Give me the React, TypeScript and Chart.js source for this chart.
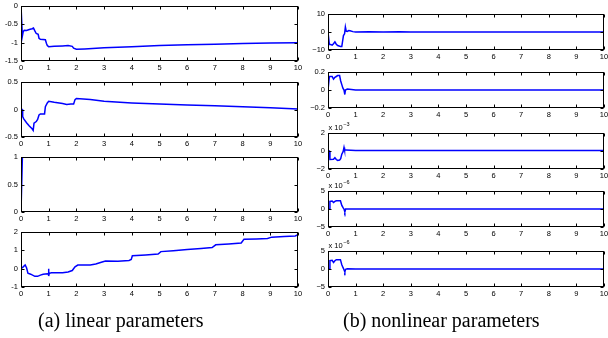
import React, { useEffect, useRef } from "react";
import { Chart, registerables } from "chart.js";
Chart.register(...registerables);
Chart.defaults.font.family = "'Liberation Sans', Arial, sans-serif";

// ---- data ----
const xTicks = [0, 1, 2, 3, 4, 5, 6, 7, 8, 9, 10];

const lin1T = [0, 0.03, 0.05, 0.08, 0.12, 0.2, 0.3, 0.4, 0.45, 0.5, 0.55, 0.62, 0.65, 0.7, 0.88, 0.92, 0.95, 1.0, 1.2, 1.5, 1.7, 1.85, 1.9, 2.0, 2.3, 3, 4, 5, 6, 7, 8, 9, 10];
const lin1V = [0, 0, -0.82, -0.7, -0.66, -0.67, -0.64, -0.62, -0.6, -0.68, -0.75, -0.77, -0.88, -0.91, -0.92, -1.02, -1.08, -1.11, -1.1, -1.09, -1.08, -1.1, -1.15, -1.18, -1.17, -1.14, -1.11, -1.08, -1.06, -1.04, -1.02, -1.01, -1.0];
const lin1Ticks = [-1.5, -1, -0.5, 0];

const lin2T = [0, 0.04, 0.06, 0.1, 0.2, 0.3, 0.4, 0.44, 0.47, 0.55, 0.6, 0.65, 0.7, 0.85, 0.88, 0.95, 1.0, 1.2, 1.5, 1.65, 1.8, 1.9, 1.95, 2.0, 2.5, 3, 4, 5, 6, 7, 8, 9, 10];
const lin2V = [0, 0, -0.13, -0.17, -0.24, -0.3, -0.35, -0.38, -0.25, -0.22, -0.18, -0.1, -0.08, -0.08, 0.05, 0.12, 0.15, 0.13, 0.11, 0.09, 0.1, 0.1, 0.18, 0.2, 0.18, 0.15, 0.12, 0.1, 0.08, 0.07, 0.05, 0.03, 0.01];
const lin2Ticks = [-0.5, 0, 0.5];

const lin3T = [0, 0.03, 0.05, 10];
const lin3V = [0, 0, 1, 1];
const lin3Ticks = [0, 0.5, 1];

const lin4T = [0, 0.08, 0.15, 0.2, 0.25, 0.35, 0.5, 0.6, 0.7, 0.8, 0.95, 0.99, 1.0, 1.0, 1.02, 1.1, 1.5, 1.7, 1.85, 1.95, 2.05, 2.5, 2.7, 2.9, 3.05, 3.5, 3.9, 3.98, 4.02, 4.5, 4.95, 5.05, 5.5, 6, 6.5, 6.9, 7.03, 7.5, 7.95, 8.05, 8.5, 8.9, 9.05, 9.5, 9.9, 10];
const lin4V = [0, 0.1, 0.2, 0.05, -0.25, -0.3, -0.42, -0.42, -0.35, -0.3, -0.28, -0.3, 0.0, -0.4, -0.25, -0.22, -0.22, -0.18, -0.1, 0.1, 0.2, 0.2, 0.25, 0.35, 0.42, 0.4, 0.45, 0.5, 0.7, 0.75, 0.8, 0.93, 0.98, 1.05, 1.1, 1.15, 1.3, 1.35, 1.4, 1.6, 1.62, 1.65, 1.72, 1.75, 1.78, 1.85];
const lin4Ticks = [-1, 0, 1, 2];

const non1T = [0, 0.03, 0.05, 0.1, 0.15, 0.2, 0.25, 0.3, 0.35, 0.45, 0.5, 0.53, 0.56, 0.6, 0.63, 0.66, 0.7, 0.75, 0.8, 0.9, 1.0, 1.5, 2, 2.6, 3, 10];
const non1V = [0, 0, -7, -7, -7.3, -6.5, -5.5, -6.8, -7.5, -8, -8, -5, -2, -1, 2.8, 0.5, 0.3, 0.8, 0.7, 0.2, 0, 0.1, 0, 0.1, 0, 0];
const non1Ticks = [-10, 0, 10];

const non2T = [0, 0.03, 0.05, 0.15, 0.2, 0.25, 0.3, 0.35, 0.42, 0.46, 0.5, 0.54, 0.58, 0.61, 0.63, 0.7, 1, 10];
const non2V = [0, 0, 0.15, 0.15, 0.12, 0.14, 0.15, 0.16, 0.16, 0.1, 0.06, 0.02, 0.0, -0.05, 0.0, 0.01, 0, 0];
const non2Ticks = [-0.2, 0, 0.2];

const non3T = [0, 0.05, 0.07, 0.2, 0.25, 0.3, 0.35, 0.42, 0.46, 0.5, 0.55, 0.58, 0.6, 0.65, 1, 10];
const non3V = [0, 0, -0.95, -0.92, -0.75, -0.95, -1.05, -1.0, -0.85, -0.35, -0.05, 0.4, 0.1, 0.1, 0.05, 0.05];
const non3Ticks = [-2, 0, 2];

const non4T = [0, 0.05, 0.07, 0.15, 0.2, 0.25, 0.3, 0.45, 0.5, 0.55, 0.58, 0.61, 0.64, 0.7, 10];
const non4V = [0, 0, 2.1, 2.2, 1.8, 2.1, 2.3, 2.3, 1.0, 0.3, 0, -0.8, 0, 0, 0];
const non4Ticks = [-5, 0, 5];

const non5T = [0, 0.05, 0.07, 0.15, 0.2, 0.25, 0.3, 0.45, 0.5, 0.55, 0.58, 0.61, 0.64, 0.7, 1.0, 10];
const non5V = [0, 0, 2.3, 2.4, 1.8, 2.3, 2.6, 2.6, 1.2, 0.3, -0.2, -0.8, -0.1, 0.05, 0, 0];
const non5Ticks = [-5, 0, 5];

const captionA = "(a) linear parameters";
const captionB = "(b) nonlinear parameters";

// ---- layout / style ----
const PAD_T = 14;
const PAD_R = 10;
const PAD_B = 14;
const LINE_COLOR = "rgb(0,0,255)";

type Spec = {
  t: number[];
  v: number[];
  ticks: number[];
  minus: string;
  exp?: string;
  left: number;
  top: number;
  w: number;
  h: number;
  padL: number;
};

const fmt = (v: number, minus: string) => {
  const s = String(Math.abs(v));
  return v < 0 ? minus + s : s;
};

const framePlugin = {
  id: "frame",
  afterDatasetsDraw(chart: any, _args: any, opts: any) {
    const { ctx, chartArea, scales } = chart;
    const L = Math.round(chartArea.left) + 0.5;
    const T = Math.round(chartArea.top) + 0.5;
    const R = Math.round(chartArea.right) - 0.5;
    const B = Math.round(chartArea.bottom) - 0.5;
    ctx.save();
    ctx.strokeStyle = "#000";
    ctx.lineWidth = 1;
    ctx.strokeRect(L, T, R - L, B - T);
    ctx.beginPath();
    const tl = 3;
    for (const t of scales.x.ticks) {
      const px = Math.round(scales.x.getPixelForValue(t.value)) + 0.5;
      ctx.moveTo(px, B);
      ctx.lineTo(px, B - tl);
      ctx.moveTo(px, T);
      ctx.lineTo(px, T + tl);
    }
    for (const t of scales.y.ticks) {
      const py = Math.round(scales.y.getPixelForValue(t.value)) + 0.5;
      ctx.moveTo(L, py);
      ctx.lineTo(L + tl, py);
      ctx.moveTo(R, py);
      ctx.lineTo(R - tl, py);
    }
    ctx.stroke();
    if (opts && opts.exp) {
      ctx.fillStyle = "#000";
      ctx.textBaseline = "alphabetic";
      ctx.textAlign = "left";
      ctx.font = "7.5px 'Liberation Sans', Arial, sans-serif";
      const base = "x 10";
      ctx.fillText(base, L, T - 4);
      const wB = ctx.measureText(base).width;
      ctx.font = "5.5px 'Liberation Sans', Arial, sans-serif";
      ctx.fillText(opts.exp, L + wB + 0.5, T - 8);
    }
    ctx.restore();
  },
};

function Panel({ spec }: { spec: Spec }) {
  const ref = useRef<HTMLCanvasElement>(null);
  useEffect(() => {
    const canvas = ref.current;
    if (!canvas) return;
    const min = spec.ticks[0];
    const max = spec.ticks[spec.ticks.length - 1];
    const chart = new Chart(canvas, {
      type: "line",
      data: {
        datasets: [
          {
            data: spec.t.map((x, i) => ({ x, y: spec.v[i] })),
            borderColor: LINE_COLOR,
            borderWidth: 1.5,
            pointRadius: 0,
            tension: 0,
            fill: false,
          },
        ],
      },
      options: {
        animation: false,
        responsive: false,
        devicePixelRatio: 1,
        layout: { padding: { top: PAD_T, right: PAD_R, left: 0, bottom: 0 } },
        plugins: {
          legend: { display: false },
          tooltip: { enabled: false },
          frame: { exp: spec.exp },
        } as any,
        scales: {
          x: {
            type: "linear",
            min: 0,
            max: 10,
            grid: { display: false, drawTicks: false },
            border: { display: false },
            afterBuildTicks: (s: any) => {
              s.ticks = xTicks.map((value) => ({ value }));
            },
            afterFit: (s: any) => {
              s.height = PAD_B;
            },
            ticks: {
              color: "#000",
              font: { size: 7.5 },
              padding: 2,
              maxRotation: 0,
              autoSkip: false,
              callback: (v: any) => String(v),
            },
          },
          y: {
            type: "linear",
            min,
            max,
            grid: { display: false, drawTicks: false },
            border: { display: false },
            afterBuildTicks: (s: any) => {
              s.ticks = spec.ticks.map((value) => ({ value }));
            },
            afterFit: (s: any) => {
              s.width = spec.padL;
            },
            ticks: {
              color: "#000",
              font: { size: 7.5 },
              padding: 3,
              autoSkip: false,
              callback: (v: any) => fmt(Number(v), spec.minus),
            },
          },
        },
      } as any,
      plugins: [framePlugin as any],
    });
    return () => chart.destroy();
  }, [spec]);
  return (
    <canvas
      ref={ref}
      width={spec.w + spec.padL + PAD_R}
      height={spec.h + PAD_T + PAD_B}
      style={{ position: "absolute", left: spec.left - spec.padL, top: spec.top - PAD_T }}
    />
  );
}

const LX = 21, LW = 277, LH = 55, LPAD = 21;
const RX = 328, RW = 276, RH = 36, RPAD = 28;

const specs: Spec[] = [
  { t: lin1T, v: lin1V, ticks: lin1Ticks, minus: "-", left: LX, top: 6, w: LW, h: LH, padL: LPAD },
  { t: lin2T, v: lin2V, ticks: lin2Ticks, minus: "-", left: LX, top: 82, w: LW, h: LH, padL: LPAD },
  { t: lin3T, v: lin3V, ticks: lin3Ticks, minus: "-", left: LX, top: 157, w: LW, h: LH, padL: LPAD },
  { t: lin4T, v: lin4V, ticks: lin4Ticks, minus: "-", left: LX, top: 232, w: LW, h: LH, padL: LPAD },
  { t: non1T, v: non1V, ticks: non1Ticks, minus: "\u2212", left: RX, top: 14, w: RW, h: RH, padL: RPAD },
  { t: non2T, v: non2V, ticks: non2Ticks, minus: "\u2212", left: RX, top: 72, w: RW, h: RH, padL: RPAD },
  { t: non3T, v: non3V, ticks: non3Ticks, minus: "\u2212", exp: "\u22123", left: RX, top: 133, w: RW, h: RH, padL: RPAD },
  { t: non4T, v: non4V, ticks: non4Ticks, minus: "\u2212", exp: "\u22126", left: RX, top: 191, w: RW, h: RH, padL: RPAD },
  { t: non5T, v: non5V, ticks: non5Ticks, minus: "\u2212", exp: "\u22126", left: RX, top: 251, w: RW, h: RH, padL: RPAD },
];

const captionStyle: React.CSSProperties = {
  position: "absolute",
  top: 308,
  fontFamily: "'Liberation Serif', 'Times New Roman', serif",
  fontSize: 20,
  lineHeight: "24px",
  whiteSpace: "pre",
  color: "#000",
};

export default function App() {
  return (
    <div
      style={{
        position: "fixed",
        left: 0,
        top: 0,
        width: 608,
        height: 338,
        overflow: "hidden",
        background: "#fff",
      }}
    >
      {specs.map((s, i) => (
        <Panel key={i} spec={s} />
      ))}
      <div style={{ ...captionStyle, left: 38 }}>{captionA}</div>
      <div style={{ ...captionStyle, left: 343 }}>{captionB}</div>
    </div>
  );
}
